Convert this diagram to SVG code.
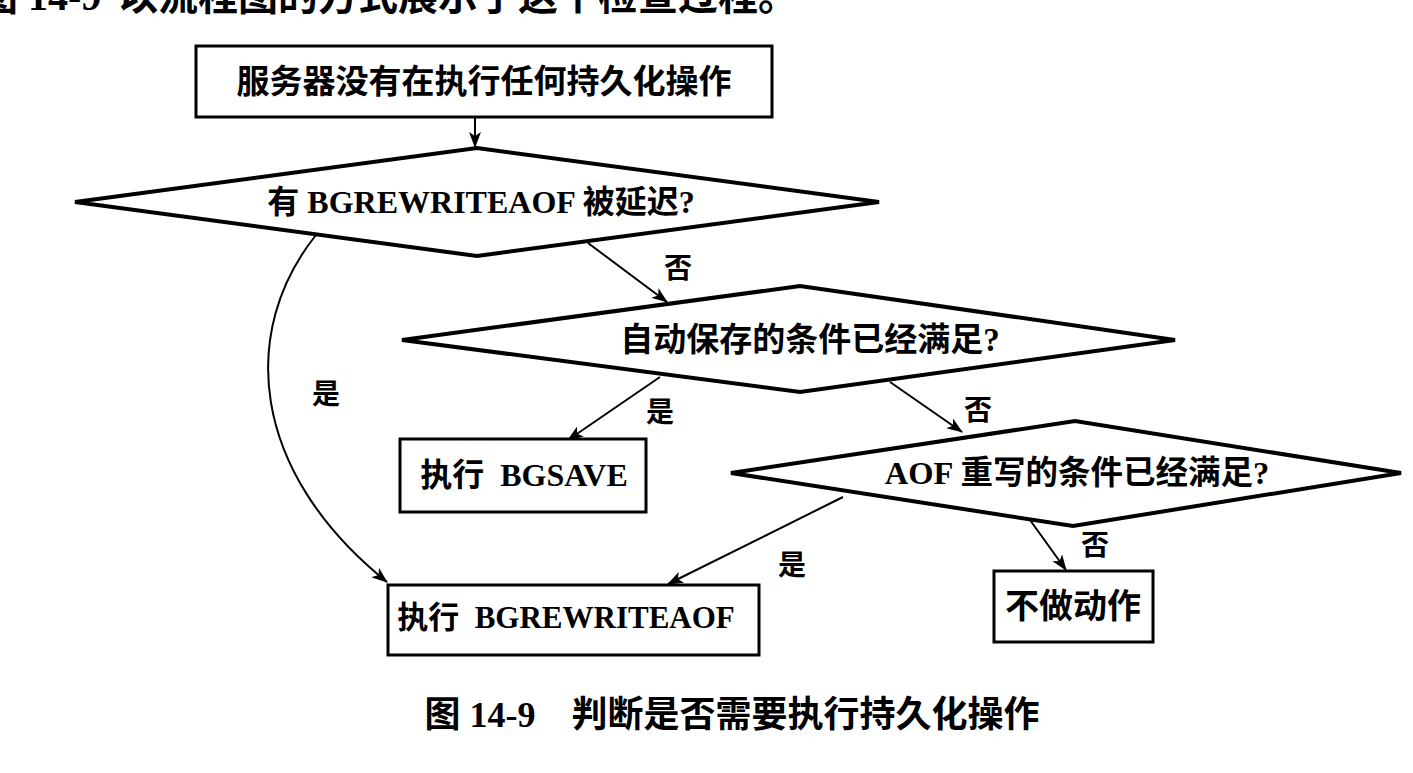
<svg xmlns="http://www.w3.org/2000/svg" width="1413" height="773" viewBox="0 0 1413 773">
<style>
  .box { fill: #fff; stroke: #000; stroke-width: 3; }
  .dia { fill: #fff; stroke: #000; stroke-width: 4; stroke-linejoin: miter; }
  .t { font-family: "Liberation Serif", "Noto Sans CJK SC", serif; font-weight: bold; fill: #000; text-anchor: middle; dominant-baseline: central; white-space: pre; }
  .lbl { font-size: 28px; }
  .edge { fill: none; stroke: #000; stroke-width: 2; }
</style>
<defs>
  <marker id="arr" markerWidth="16" markerHeight="12" refX="15" refY="6" orient="auto" markerUnits="userSpaceOnUse">
    <path d="M0,0 L16,6 L0,12 L4,6 z" fill="#000"/>
  </marker>
</defs>
<rect width="1413" height="773" fill="#fff"/>

<text x="-22" y="10" style="font-family:'Liberation Serif','Noto Sans CJK SC',serif;font-weight:bold;font-size:40px">图 14-9 <tspan x="118">以流程图的方式展示了这个检查过程。</tspan></text>

<g id="connectors">
  <line class="edge" x1="475" y1="117" x2="475" y2="147" marker-end="url(#arr)"/>
  <line class="edge" x1="588" y1="243" x2="667" y2="302" marker-end="url(#arr)"/>
  <path class="edge" d="M316,235 C240,330 248,470 387,582" marker-end="url(#arr)"/>
  <line class="edge" x1="660" y1="377" x2="568" y2="440" marker-end="url(#arr)"/>
  <line class="edge" x1="890" y1="382" x2="962" y2="432" marker-end="url(#arr)"/>
  <line class="edge" x1="843" y1="497" x2="668" y2="584" marker-end="url(#arr)"/>
  <line class="edge" x1="1030" y1="520" x2="1066" y2="570" marker-end="url(#arr)"/>
  <text class="t lbl" x="678" y="268">否</text>
  <text class="t lbl" x="326" y="394">是</text>
  <text class="t lbl" x="660" y="412">是</text>
  <text class="t lbl" x="978" y="410">否</text>
  <text class="t lbl" x="792" y="565">是</text>
  <text class="t lbl" x="1095" y="545">否</text>
</g>

<g id="start">
  <rect class="box" x="196" y="46" width="576" height="71"/>
  <text class="t" x="484" y="82" style="font-size:33px">服务器没有在执行任何持久化操作</text>
</g>

<g id="d1">
  <polygon class="dia" points="75,202 477,148 879,202 477,256"/>
  <text class="t" x="481" y="202" style="font-size:32px">有 BGREWRITEAOF 被延迟?</text>
</g>

<g id="d2">
  <polygon class="dia" points="402,340 800,286 1175,340 800,392"/>
  <text class="t" x="810" y="340" style="font-size:33px">自动保存的条件已经满足?</text>
</g>

<g id="bgsave">
  <rect class="box" x="400" y="439" width="246" height="73"/>
  <text class="t" x="524" y="475" style="font-size:32px">执行  BGSAVE</text>
</g>

<g id="d3">
  <polygon class="dia" points="731,473 1075,421 1401,473 1073,526"/>
  <text class="t" x="1077" y="473" style="font-size:32.5px">AOF 重写的条件已经满足?</text>
</g>

<g id="bgrewrite">
  <rect class="box" x="388" y="585" width="371" height="70"/>
  <text class="t" x="566" y="617" style="font-size:31px">执行  BGREWRITEAOF</text>
</g>

<g id="noop">
  <rect class="box" x="994" y="571" width="159" height="71"/>
  <text class="t" x="1073" y="606" style="font-size:34px">不做动作</text>
</g>

<text class="t" x="732" y="715" style="font-size:36px">图 14-9　判断是否需要执行持久化操作</text>
</svg>
